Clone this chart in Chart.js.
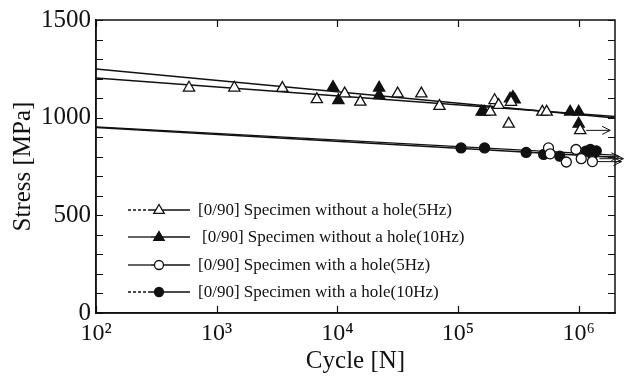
<!DOCTYPE html>
<html>
<head>
<meta charset="utf-8">
<script src="https://cdn.jsdelivr.net/npm/chart.js@4.4.1/dist/chart.umd.min.js"></script>
<style>
html,body{margin:0;padding:0;background:#fff;}
#wrap{width:624px;height:381px;position:relative;}
</style>
</head>
<body>
<div id="wrap"><canvas id="c" width="624" height="381"></canvas></div>
<script>
// ---- data (cycles N, stress MPa) ----
const noHole5Hz_N = [590, 1400, 3500, 6760, 11500, 15500, 31600, 49700, 70200, 185000, 201000, 217000, 263000, 275000, 500000, 543000, 1030000];
const noHole5Hz_S = [1153, 1153, 1151, 1094, 1123, 1081, 1123, 1123, 1059, 1030, 1089, 1064, 968, 1080, 1030, 1030, 935];
const noHole10Hz_N = [9200, 10200, 22200, 22200, 157000, 165000, 270000, 285000, 295000, 850000, 1000000, 1000000];
const noHole10Hz_S = [1156, 1089, 1153, 1114, 1030, 1030, 1097, 1105, 1092, 1030, 1030, 968];
const hole5Hz_N = [562000, 580000, 790000, 950000, 1050000, 1300000];
const hole5Hz_S = [845, 815, 773, 837, 790, 775];
const hole10Hz_N = [106000, 166000, 367000, 513000, 697000, 1150000, 1250000, 1300000, 1400000];
const hole10Hz_S = [845, 845, 822, 812, 803, 829, 837, 812, 830];
// fitted S-N lines (end points)
const fitNoHole5Hz_N = [100, 2000000];
const fitNoHole5Hz_S = [1203, 1006];
const fitNoHole10Hz_N = [100, 2000000];
const fitNoHole10Hz_S = [1249, 998];
const fitHole5Hz_N = [100, 2000000];
const fitHole5Hz_S = [950, 797];
const fitHole10Hz_N = [100, 2000000];
const fitHole10Hz_S = [953, 808];
// run-out specimens (arrows)
const runout_N = [1050000, 1300000, 1250000, 1350000];
const runout_S = [935, 775, 800, 790];
// axes
const xTickValues = [100, 1000, 10000, 100000, 1000000];
const xTickLabels = ['10²', '10³', '10⁴', '10⁵', '10⁶'];
const yTickValues = [0, 500, 1000, 1500];
const yTickLabels = ['0', '500', '1000', '1500'];
const legendLabels = [
  '[0/90] Specimen without a hole(5Hz)',
  '[0/90] Specimen without a hole(10Hz)',
  '[0/90] Specimen with a hole(5Hz)',
  '[0/90] Specimen with a hole(10Hz)'
];

const pts = (xs, ys) => xs.map((x, i) => ({x: x, y: ys[i]}));
const INK = '#111';
const FONT = "'Liberation Serif', 'Times New Roman', serif";

const markerDefs = [
  {style: 'triangle', fill: '#fff', r: 6.5},
  {style: 'triangle', fill: INK, r: 6.5},
  {style: 'circle', fill: '#fff', r: 5},
  {style: 'circle', fill: INK, r: 5}
];

const datasets = [
  {label: legendLabels[0], data: pts(noHole5Hz_N, noHole5Hz_S)},
  {label: legendLabels[1], data: pts(noHole10Hz_N, noHole10Hz_S)},
  {label: legendLabels[2], data: pts(hole5Hz_N, hole5Hz_S)},
  {label: legendLabels[3], data: pts(hole10Hz_N, hole10Hz_S)}
].map((d, i) => Object.assign(d, {
  pointStyle: markerDefs[i].style,
  pointRadius: markerDefs[i].r,
  pointBackgroundColor: markerDefs[i].fill,
  pointBorderColor: INK,
  pointBorderWidth: 1.3,
  showLine: false,
  order: 1
}));

[[fitNoHole5Hz_N, fitNoHole5Hz_S], [fitNoHole10Hz_N, fitNoHole10Hz_S], [fitHole5Hz_N, fitHole5Hz_S], [fitHole10Hz_N, fitHole10Hz_S]].forEach((f) => {
  datasets.push({
    label: '', data: pts(f[0], f[1]), showLine: true, pointRadius: 0,
    borderColor: INK, borderWidth: 1.4, order: 2
  });
});

const ticksPlugin = {
  id: 'ticksPlugin',
  afterDatasetsDraw(chart) {
    const {ctx, chartArea: a, scales: {x, y}} = chart;
    ctx.save();
    ctx.strokeStyle = INK;
    ctx.lineWidth = 1.2;
    ctx.beginPath();
    for (let v = 0; v <= 1500; v += 100) {
      const py = Math.round(y.getPixelForValue(v)) + 0.5;
      ctx.moveTo(a.left, py); ctx.lineTo(a.left + 7, py);
      ctx.moveTo(a.right, py); ctx.lineTo(a.right - 7, py);
    }
    xTickValues.forEach(v => {
      const px = Math.round(x.getPixelForValue(v)) + 0.5;
      ctx.moveTo(px, a.bottom); ctx.lineTo(px, a.bottom - 7);
      ctx.moveTo(px, a.top); ctx.lineTo(px, a.top + 7);
    });
    ctx.stroke();
    // run-out arrows
    ctx.lineWidth = 1;
    runout_N.forEach((n, i) => {
      const px = x.getPixelForValue(n) + 5, py = y.getPixelForValue(runout_S[i]);
      ctx.beginPath();
      ctx.moveTo(px, py); ctx.lineTo(px + 24, py);
      ctx.moveTo(px + 24, py); ctx.lineTo(px + 16, py - 4);
      ctx.moveTo(px + 24, py); ctx.lineTo(px + 16, py + 4);
      ctx.stroke();
    });
    // legend
    const lx0 = 128, lmk = 159, lx1 = 190, tx = 198;
    const rows = [210, 237, 265, 292];
    ctx.font = "17px " + FONT;
    ctx.textBaseline = 'middle';
    ctx.fillStyle = INK;
    legendLabels.forEach((lab, i) => {
      const ry = rows[i];
      ctx.lineWidth = 1.3;
      ctx.beginPath();
      ctx.setLineDash(i === 0 || i === 3 ? [3, 2] : []);
      ctx.moveTo(lx0, ry); ctx.lineTo(lmk - 8, ry); ctx.stroke();
      ctx.setLineDash([]);
      ctx.beginPath(); ctx.moveTo(lmk - 8, ry); ctx.lineTo(lx1, ry); ctx.stroke();
      const m = markerDefs[i];
      ctx.beginPath();
      if (m.style === 'circle') {
        ctx.arc(lmk, ry, 4.5, 0, Math.PI * 2);
      } else {
        const r = 5.5;
        ctx.moveTo(lmk, ry - r); ctx.lineTo(lmk + r * 0.95, ry + r * 0.6); ctx.lineTo(lmk - r * 0.95, ry + r * 0.6); ctx.closePath();
      }
      ctx.fillStyle = m.fill; ctx.fill(); ctx.stroke();
      ctx.fillStyle = INK;
      ctx.fillText(lab, tx + (i === 1 ? 4 : 0), ry + 1);
    });
    ctx.restore();
  }
};

new Chart(document.getElementById('c'), {
  type: 'scatter',
  data: {datasets: datasets},
  options: {
    responsive: false,
    animation: false,
    layout: {padding: {left: 0, right: 9, top: 19, bottom: 0}},
    plugins: {legend: {display: false}, tooltip: {enabled: false}},
    scales: {
      x: {
        type: 'logarithmic', min: 100, max: 2000000,
        afterBuildTicks: (s) => { s.ticks = xTickValues.map(v => ({value: v})); },
        afterFit: (s) => { s.height = 68; },
        grid: {display: false, drawTicks: false},
        border: {display: true, color: INK, width: 1.5},
        ticks: {
          autoSkip: false, maxRotation: 0, padding: 6, color: INK,
          font: {family: FONT, size: 24},
          callback: (v) => { const i = xTickValues.indexOf(v); return i >= 0 ? xTickLabels[i] : ''; }
        },
        title: {display: true, text: 'Cycle [N]', color: INK, font: {family: FONT, size: 25}, padding: {top: 0, bottom: 5}}
      },
      y: {
        min: 0, max: 1500,
        afterBuildTicks: (s) => { s.ticks = yTickValues.map(v => ({value: v})); },
        afterFit: (s) => { s.width = 96; },
        grid: {display: false, drawTicks: false},
        border: {display: true, color: INK, width: 1.5},
        ticks: {
          padding: 5, color: INK, font: {family: FONT, size: 25},
          callback: (v) => { const i = yTickValues.indexOf(v); return i >= 0 ? yTickLabels[i] : ''; }
        },
        title: {display: true, text: 'Stress [MPa]', color: INK, font: {family: FONT, size: 25}, padding: {top: 8, bottom: 0}}
      }
    }
  },
  plugins: [ticksPlugin, {
    id: 'frame',
    afterDraw(chart) {
      const {ctx, chartArea: a} = chart;
      ctx.save(); ctx.strokeStyle = INK; ctx.lineWidth = 1.5;
      ctx.strokeRect(a.left, a.top, a.right - a.left, a.bottom - a.top);
      ctx.restore();
    }
  }]
});
</script>
</body>
</html>
